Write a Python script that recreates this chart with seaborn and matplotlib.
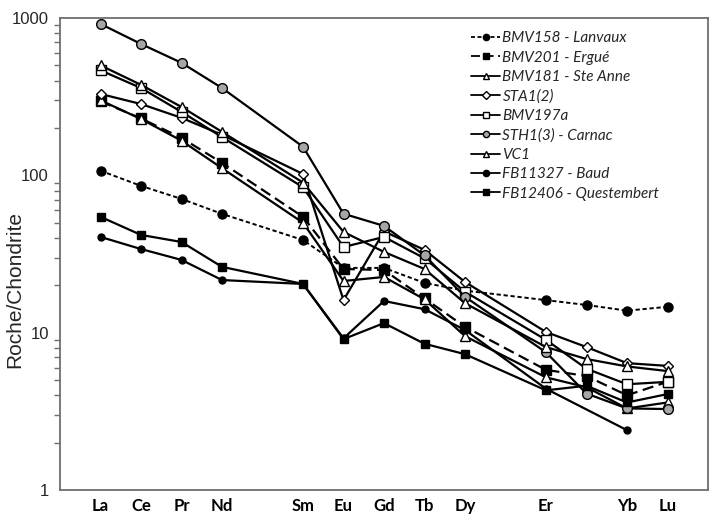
import numpy as np
import pandas as pd
import matplotlib
matplotlib.use("Agg")
import matplotlib.pyplot as plt
import seaborn as sns
from matplotlib.ticker import FixedLocator, NullFormatter

# Chondrite-normalised REE patterns
elements = ["La", "Ce", "Pr", "Nd", "Pm", "Sm", "Eu", "Gd", "Tb", "Dy", "Ho", "Er", "Tm", "Yb", "Lu"]
tick_labels = ["La", "Ce", "Pr", "Nd", "", "Sm", "Eu", "Gd", "Tb", "Dy", "", "Er", "", "Yb", "Lu"]

nan = np.nan
bmv158 = [107, 85.7, 70.8, 56.9, nan, 38.8, 25.8, 25.8, 20.7, 18.5, nan, 16.1, 15.0, 13.8, 14.6]
bmv201 = [295, 230, 173, 120, nan, 54.5, 25.4, 25.0, 16.5, 10.9, nan, 5.8, 5.3, 4.0, 4.87]
bmv181 = [300, 228, 166, 111, nan, 50.0, 21.3, 22.6, 16.3, 9.5, nan, 5.2, 4.5, 3.3, 3.6]
sta1 = [329, 284, 232, 181, nan, 102, 16.1, 44.0, 33.6, 21.0, nan, 10.1, 8.1, 6.4, 6.15]
bmv197a = [465, 359, 253, 175, nan, 84.0, 35.0, 40.6, 29.7, 18.2, nan, 9.0, 5.9, 4.7, 4.87]
sth1 = [917, 684, 519, 359, nan, 152, 57.0, 47.7, 31.0, 16.9, nan, 7.5, 4.1, 3.3, 3.27]
vc1 = [500, 376, 272, 189, nan, 90.0, 43.7, 32.6, 25.4, 15.4, nan, 8.1, 6.8, 6.1, 5.7]
fb11327 = [40.6, 34.0, 29.0, 21.6, nan, 20.4, 9.2, 15.9, 14.1, 10.4, nan, 4.4, nan, 2.4, nan]
fb12406 = [54.5, 41.8, 37.7, 26.2, nan, 20.4, 9.1, 11.5, 8.5, 7.3, nan, 4.3, 4.6, 3.6, 4.07]

series_names = ["BMV158 - Lanvaux", "BMV201 - Ergué", "BMV181 - Ste Anne", "STA1(2)",
                "BMV197a", "STH1(3) - Carnac", "VC1", "FB11327 - Baud", "FB12406 - Questembert"]
series_values = [bmv158, bmv201, bmv181, sta1, bmv197a, sth1, vc1, fb11327, fb12406]

styles = [
    dict(marker="o", ms=6.5, mfc="black", ls=(0, (2.2, 1.4)), lw=1.4),
    dict(marker="s", ms=7, mfc="black", ls=(0, (5, 2.5)), lw=1.6),
    dict(marker="^", ms=7, mfc="white", ls="-", lw=1.6),
    dict(marker="D", ms=4.8, mfc="white", ls="-", lw=1.6),
    dict(marker="s", ms=7, mfc="white", ls="-", lw=1.6),
    dict(marker="o", ms=7, mfc="#a6a6a6", ls="-", lw=1.6),
    dict(marker="^", ms=7, mfc="white", ls="-", lw=1.6),
    dict(marker="o", ms=5, mfc="black", ls="-", lw=1.6),
    dict(marker="s", ms=5.5, mfc="black", ls="-", lw=1.6),
]

sns.set_style("white")
plt.rcParams["font.family"] = ["Liberation Sans", "DejaVu Sans"]

fig = plt.figure(figsize=(7.11, 5.16), dpi=100)
ax = fig.add_axes([60 / 711, 1 - 490 / 516, 648 / 711, 472 / 516])

positions = np.arange(len(elements))
for name, vals, st in zip(series_names, series_values, styles):
    df = pd.DataFrame({"pos": positions, "value": vals}).dropna()
    sns.lineplot(data=df, x="pos", y="value", ax=ax, color="black",
                 linestyle=st["ls"], linewidth=st["lw"],
                 marker=st["marker"], markersize=st["ms"],
                 markerfacecolor=st["mfc"], markeredgecolor="black",
                 markeredgewidth=1.0, label=name, legend=False,
                 estimator=None, sort=False)

ax.set_yscale("log")
ax.set_ylim(1, 1000)
ax.set_xlim(-1, 15)

ax.set_xticks(positions)
ax.set_xticklabels(tick_labels, fontsize=12, fontweight="bold", family=["Lato", "DejaVu Sans"])
ax.yaxis.set_major_locator(FixedLocator([1, 10, 100, 1000]))
ax.set_yticklabels(["1", "10", "100", "1000"], fontsize=12)
minor = [m * 10 ** e for e in range(0, 3) for m in range(2, 10)]
ax.yaxis.set_minor_locator(FixedLocator(minor))
ax.yaxis.set_minor_formatter(NullFormatter())

ax.tick_params(axis="x", direction="inout", length=8, width=1.2, color="#6e6e6e", pad=2, labelcolor="black")
ax.tick_params(axis="y", which="major", direction="out", length=6, width=1.2, color="#6e6e6e", pad=2)
ax.tick_params(axis="y", which="minor", direction="out", length=4, width=1.0, color="#6e6e6e", left=True)

for sp in ax.spines.values():
    sp.set_color("#6e6e6e")
    sp.set_linewidth(1.3)

ax.set_xlabel("")
ax.set_ylabel("")
fig.text(15 / 711, 1 - 290 / 516, "Roche/Chondrite", rotation=90, fontsize=15,
         ha="center", va="center")

leg = ax.legend(loc="upper left", bbox_to_anchor=(0.625, 0.985), frameon=False,
                handlelength=1.9, handletextpad=0.15, labelspacing=0.35, borderaxespad=0,
                prop={"family": ["Lato", "DejaVu Sans"], "style": "italic", "size": 11})
for h in leg.legend_handles:
    h.set_markersize(4.5)
    h.set_linewidth(1.3)

fig.savefig("out.png", dpi=100)
